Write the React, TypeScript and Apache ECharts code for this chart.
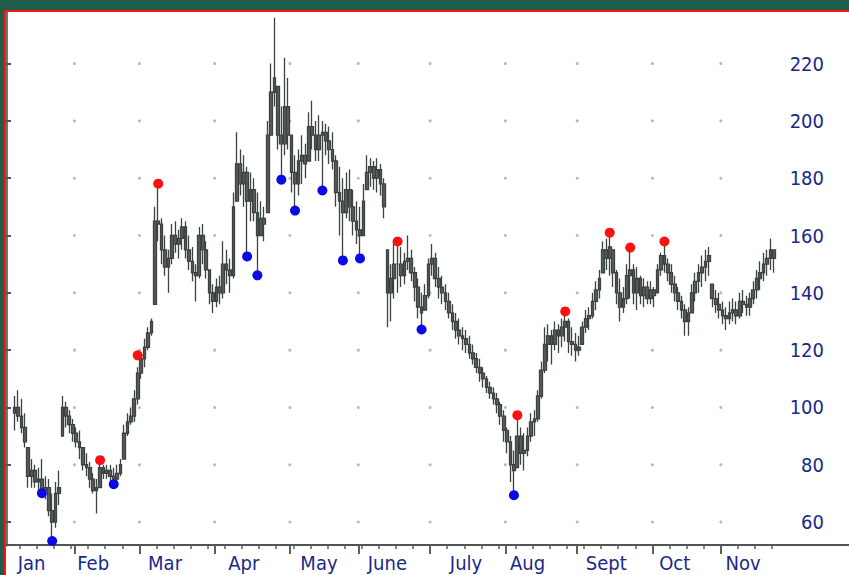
import React, { useEffect, useRef } from 'react';
import * as echarts from 'echarts';

const dayCount = 226;
const firstDay = 2;
const highs = [104,106,103,98,86,82,80,79,82,76,75,70,74,78,104,102,99,96,93,92,86,84,81,77,75,81,80,80,80,79,80,82,94,98,100,106,114,119,124,128,131,170,177,166,160,155,164,165,162,166,165,160,156,150,163,164,158,148,143,145,146,158,155,152,175,196,190,188,184,182,180,175,172,170,200,220,236,212,205,222,215,195,188,190,195,192,203,207,200,202,200,199,198,196,188,184,180,182,183,176,172,170,178,188,187,186,187,185,180,155,150,158,157,156,154,160,155,149,145,140,143,152,157,154,149,146,143,140,136,133,131,128,127,125,122,119,117,114,111,109,107,105,102,99,93,90,85,96,93,91,93,98,99,106,116,128,129,127,130,129,131,133,131,128,126,125,130,134,135,140,144,148,158,159,160,155,148,145,142,150,155,150,149,146,145,144,144,142,150,154,157,152,150,146,142,139,136,135,143,147,150,153,155,156,143,141,140,137,135,137,138,137,140,141,139,140,144,148,151,154,155,159,155];
const lows = [92,95,91,86,72,72,72,71,70,68,62,53.5,58,66,90,93,91,88,86,82,78,76,72,70,63,72,75,75,74,73.5,74,76,82,90,94,95,101,110,114,120,125,136,158,150,146,140,150,154,152,155,152,148,144,137,145,150,145,136,133,135,136,138,143,140,145,172,174,170,153,165,165,146.5,160,158,168,195,205,190,180,188,190,175,169,174,178,180,186,190,186,186,176,188,185,183,170,160,151.5,166,165,160,157,152.5,160,176,177,176,175,174,166,128,130,138,140,142,143,148,144,137,131,127.5,134,138,146,142,138,136,134,131,127,124,122,120,119,117,115,112,109,107,105,103,101,98,94,88,84,74,70,79,80,78,83,88,90,95,103,112,116,115,120,119,121,123,119,118,116,118,122,126,127,131,134,138,147,148,146,142,136,130,133,136,138,136,134,136,135,136,136,135,140,146,147,144,140,137,134,131,125,125,133,137,140,142,144,146,135,133,131,129,127,129,130,129,131,133,132,132,136,138,141,144,146,148,147];
const closes = [100,97,93,88,76,78,74,75,71,72,64,60,70,72,100,97,94,91,88,86,80,79,75,71,72,79,77,78,76,75,77,80,91,95,97,103,112,117,121,126,130,165,164,155,149,152,160,157,159,163,155,151,147,146,160,155,148,140,137,142,140,150,148,146,170,185,178,182,172,176,168,160,166,164,195,210,215,195,192,205,195,182,178,186,188,185,198,195,190,195,196,193,190,186,175,172,168,176,170,165,162,160,172,182,184,180,183,178,170,140,145,150,150,146,151,152,147,142,135,133,139,150,152,145,142,140,137,133,130,127,125,124,122,119,117,114,112,110,107,105,103,101,97,92,88,80,78,90,84,85,90,95,96,104,113,122,125,122,127,125,128,130,123,122,120,121,128,131,132,137,141,145,155,152,156,147,140,135,138,146,148,140,145,139,142,138,141,139,148,153,150,147,143,140,137,134,130,133,140,144,147,149,151,153,138,136,134,132,131,133,134,132,137,136,135,138,141,145,147,150,152,155,152];
const firstOpen = 98;

const monthNames = ['Jan', 'Feb', 'Mar', 'Apr', 'May', 'June', 'July', 'Aug', 'Sept', 'Oct', 'Nov'];
const monthLabelDays = [7, 25, 46, 69, 91, 111, 134, 152, 175, 195, 215];
const monthStartDays = [20, 39, 61, 83, 103, 124, 146, 167, 189, 209];
const yTicks = [60, 80, 100, 120, 140, 160, 180, 200, 220];

const redDays = [27, 38, 44, 114, 149, 163, 176, 182, 192];
const redValues = [81.6, 118.2, 178.1, 157.9, 97.3, 133.5, 161, 155.8, 157.9];
const blueDays = [10, 13, 31, 70, 73, 80, 84, 92, 98, 103, 121, 148];
const blueValues = [70.1, 53.4, 73.2, 152.7, 146.1, 179.5, 168.7, 175.7, 151.3, 152, 127.2, 69.4];

const FONT = "'Liberation Sans Narrow', 'Arial Narrow', 'DejaVu Sans Condensed', Roboto, sans-serif";
const NAVY = '#1a2888';

export default function App() {
  const ref = useRef<HTMLDivElement>(null);
  useEffect(() => {
    if (!ref.current) return;
    const chart = echarts.init(ref.current, null, { renderer: 'svg' });

    const candles = highs.map((h, j) => {
      const prev = j === 0 ? firstOpen : closes[j - 1];
      const open = Math.min(Math.max(prev, lows[j]), h);
      return [firstDay + j + 0.5, open, closes[j], lows[j], h];
    });
    const gridDots: number[][] = [];
    monthStartDays.forEach((d) => yTicks.forEach((v) => gridDots.push([d, v])));
    const weekTicks: number[] = [];
    for (let k = 4; k < dayCount; k += 5) weekTicks.push(k);
    const labelMap = new Map<number, string>();
    monthLabelDays.forEach((d, i) => labelMap.set(d + 0.5, monthNames[i]));

    chart.setOption({
      animation: false,
      backgroundColor: '#ffffff',
      grid: { left: 6, right: 70, top: 12, bottom: 30, containLabel: false },
      xAxis: [
        {
          type: 'value', min: 0, max: dayCount, position: 'bottom',
          axisLine: { show: true, lineStyle: { color: '#4e5553', width: 2 } },
          axisTick: { show: true, customValues: monthStartDays, length: 9, lineStyle: { color: '#5a605e', width: 2 } },
          axisLabel: {
            show: true, customValues: monthLabelDays.map((d) => d + 0.5),
            formatter: (v: number) => labelMap.get(v) || '',
            color: NAVY, fontSize: 20, fontFamily: FONT, margin: 8,
          },
          splitLine: { show: false },
        },
        {
          type: 'value', min: 0, max: dayCount, position: 'bottom',
          axisLine: { show: false },
          axisTick: { show: true, customValues: weekTicks, length: 4, lineStyle: { color: '#5a605e', width: 1.5 } },
          axisLabel: { show: false },
          splitLine: { show: false },
        },
      ],
      yAxis: {
        type: 'value', position: 'right', min: 52, max: 238,
        axisLine: { show: true, lineStyle: { color: '#6f7775', width: 3 } },
        axisTick: { show: true, customValues: yTicks, length: 5, lineStyle: { color: '#4e5553', width: 2 } },
        axisLabel: {
          customValues: yTicks, align: 'right', margin: 45,
          color: NAVY, fontSize: 20, fontFamily: FONT,
        },
        splitLine: { show: false },
      },
      series: [
        {
          type: 'scatter', xAxisIndex: 0, data: gridDots, symbol: 'circle', symbolSize: 3,
          itemStyle: { color: '#b3bab9', opacity: 1 }, silent: true, z: 1,
        },
        {
          type: 'candlestick', xAxisIndex: 0, data: candles, barWidth: 3.2,
          itemStyle: { color: '#565d5b', color0: '#565d5b', borderColor: '#3c4240', borderColor0: '#3c4240', borderWidth: 1.3, opacity: 1 },
          z: 2,
        },
        {
          type: 'scatter', xAxisIndex: 0, data: redDays.map((d, i) => [d + 0.5, redValues[i]]),
          symbolSize: 10, itemStyle: { color: '#ff1010', opacity: 1 }, z: 3,
        },
        {
          type: 'scatter', xAxisIndex: 0, data: blueDays.map((d, i) => [d + 0.5, blueValues[i]]),
          symbolSize: 10, itemStyle: { color: '#0a0ae6', opacity: 1 }, z: 3,
        },
      ],
      graphic: [
        { type: 'rect', shape: { x: 0, y: 0, width: 849, height: 10 }, style: { fill: '#1f5d4b' }, z: 10 },
        { type: 'rect', shape: { x: 0, y: 0, width: 4, height: 575 }, style: { fill: '#1f5d4b' }, z: 10 },
        { type: 'rect', shape: { x: 4, y: 10, width: 845, height: 2 }, style: { fill: '#ff1414' }, z: 10 },
        { type: 'rect', shape: { x: 4, y: 10, width: 2, height: 565 }, style: { fill: '#ff1414' }, z: 10 },
        { type: 'line', shape: { x1: 779, y1: 545, x2: 849, y2: 545 }, style: { stroke: '#4e5553', lineWidth: 2 }, z: 10 },
      ],
    });
    return () => chart.dispose();
  }, []);
  return <div ref={ref} style={{ position: 'absolute', left: 0, top: 0, width: 849, height: 575 }} />;
}
